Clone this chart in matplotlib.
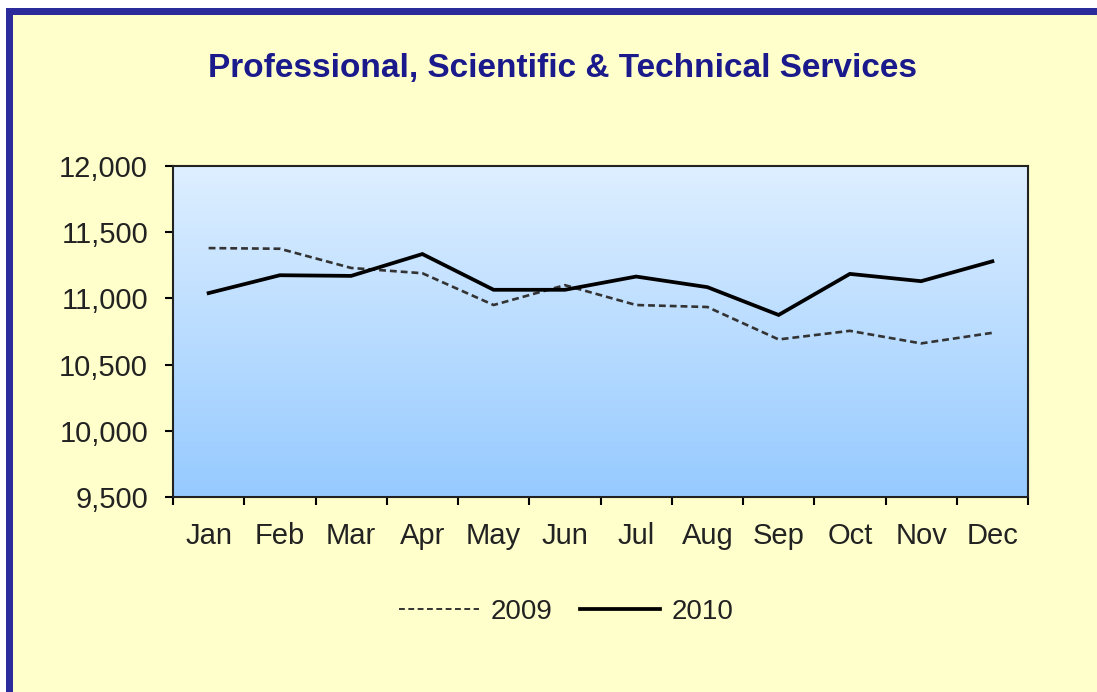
import numpy as np
import matplotlib
matplotlib.use("Agg")
import matplotlib.pyplot as plt
from matplotlib.patches import Rectangle
from matplotlib.lines import Line2D

months = ["Jan", "Feb", "Mar", "Apr", "May", "Jun",
          "Jul", "Aug", "Sep", "Oct", "Nov", "Dec"]
y2009 = [11380, 11375, 11230, 11190, 10950, 11100,
         10950, 10935, 10690, 10755, 10660, 10740]
y2010 = [11040, 11175, 11170, 11335, 11065, 11065,
         11165, 11085, 10875, 11185, 11130, 11280]
yticks = [9500, 10000, 10500, 11000, 11500, 12000]

plt.rcParams['font.family'] = ['Liberation Sans', 'DejaVu Sans']

W, H = 1097, 692
fig = plt.figure(figsize=(W / 100, H / 100), dpi=100)
fig.patch.set_facecolor("white")

# yellow panel with navy frame (cut off at right and bottom)
fig.patches.append(Rectangle((6 / W, 0), 1, 1 - 8 / H, transform=fig.transFigure,
                             facecolor="#2b2b9b", edgecolor="none", zorder=-2))
fig.patches.append(Rectangle((13 / W, 0), 1, 1 - 15 / H, transform=fig.transFigure,
                             facecolor="#ffffcc", edgecolor="none", zorder=-1))

left, right, top, bottom = 173, 1028, 166, 497
ax = fig.add_axes([left / W, 1 - bottom / H, (right - left) / W, (bottom - top) / H])

# gradient background
grad = np.linspace(0, 1, 256).reshape(-1, 1)
top_c = np.array([222, 239, 255]) / 255
bot_c = np.array([150, 202, 255]) / 255
img = top_c + (bot_c - top_c) * grad[..., None]
ax.imshow(img, extent=[-0.5, 11.5, 9500, 12000], aspect="auto", zorder=0)

x = np.arange(len(months))
ax.plot(x, y2009, color="#333333", lw=1.9, ls=(0, (2.6, 1.5)), zorder=2)
ax.plot(x, y2010, color="black", lw=2.7, solid_joinstyle="miter", zorder=3)

ax.set_xlim(-0.5, 11.5)
ax.set_ylim(9500, 12000)
ax.set_yticks(yticks)
ax.set_yticklabels([f"{v:,}" for v in yticks])
ax.set_xticks(np.arange(-0.5, 12, 1))
ax.set_xticklabels([])
ax.set_xticks(x, minor=True)
ax.set_xticklabels(months, minor=True)
ax.tick_params(axis="x", which="minor", length=0, pad=18, labelsize=21, labelcolor="#222222")
ax.tick_params(axis="x", which="major", direction="out", length=6, width=1.5)
ax.tick_params(axis="y", direction="out", length=6, width=1.5, pad=12,
               labelsize=21, labelcolor="#222222")
for s in ax.spines.values():
    s.set_linewidth(1.5)
    s.set_color("#222222")

fig.text(563 / W, 1 - 68 / H, "Professional, Scientific & Technical Services",
         ha="center", va="center", fontsize=24, fontweight="bold", color="#1a1a8c")

handles = [Line2D([], [], color="#333333", lw=1.4, ls=(0, (3, 1.8))),
           Line2D([], [], color="black", lw=2.7)]
fig.legend(handles, ["2009", "2010"], loc="center", bbox_to_anchor=(566 / W, 1 - 612 / H),
           ncol=2, frameon=False, fontsize=20, handlelength=2.9, handletextpad=0.4,
           columnspacing=1.0, labelcolor="#222222")

fig.savefig("out.png", dpi=100)
